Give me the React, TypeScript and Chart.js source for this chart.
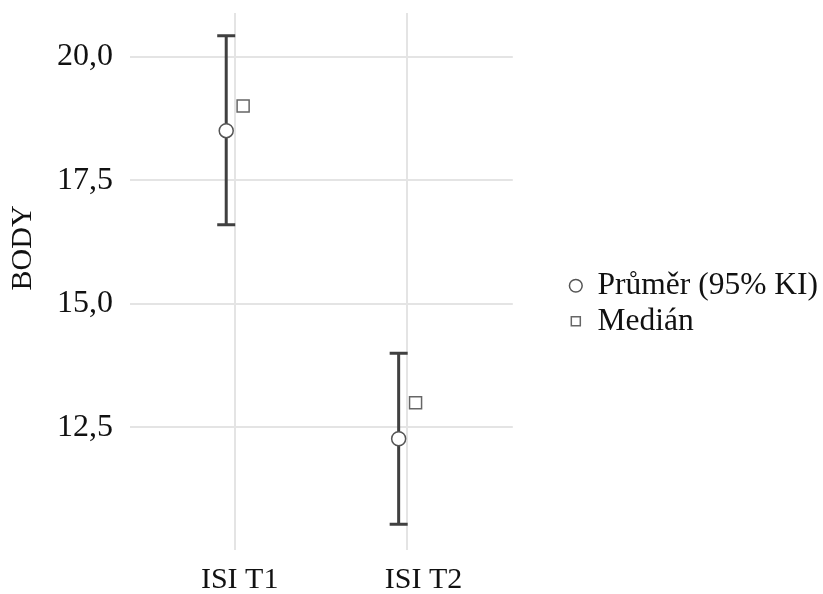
import React, { useEffect, useRef } from 'react';
import { Chart, registerables } from 'chart.js';

Chart.register(...registerables);

// ---- data ----
const categories = ['ISI T1', 'ISI T2'];
const categoryPositions = [0, 1];
const meanValues = [18.5, 12.27];
const ciLower = [16.6, 10.54];
const ciUpper = [20.42, 14.0];
const medianValues = [19.0, 13.0];
const yTickValues = [12.5, 15, 17.5, 20];
const yTickLabels = ['12,5', '15,0', '17,5', '20,0'];
const seriesNames = ['Průměr (95% KI)', 'Medián'];
const yAxisTitle = 'BODY';

// ---- styling / layout ----
const FONT = "'Liberation Serif', 'Times New Roman', serif";
const TEXT_COLOR = '#111111';
const GRID_COLOR = '#e4e4e4';
const BAR_COLOR = '#404040';
const MEAN_SHIFT = -0.049;
const MEDIAN_SHIFT = 0.049;
const LABEL_SHIFTS = [0.029, 0.095];
const X_MIN = -0.607;
const X_MAX = 1.613;
const Y_MIN = 10.02;
const Y_MAX = 20.88;

const errorBarPlugin = {
  id: 'errorBars',
  beforeDatasetsDraw(chart: any) {
    const { ctx } = chart;
    const xs = chart.scales.x;
    const ys = chart.scales.y;
    ctx.save();
    ctx.strokeStyle = BAR_COLOR;
    ctx.lineWidth = 3;
    ctx.lineCap = 'butt';
    categoryPositions.forEach((p, i) => {
      const x = xs.getPixelForValue(p + MEAN_SHIFT);
      const yl = ys.getPixelForValue(ciLower[i]);
      const yh = ys.getPixelForValue(ciUpper[i]);
      ctx.beginPath();
      ctx.moveTo(x, yl);
      ctx.lineTo(x, yh);
      ctx.moveTo(x - 9, yl);
      ctx.lineTo(x + 9, yl);
      ctx.moveTo(x - 9, yh);
      ctx.lineTo(x + 9, yh);
      ctx.stroke();
    });
    ctx.restore();
  },
};

const yTitlePlugin = {
  id: 'yTitle',
  afterDraw(chart: any) {
    const { ctx, chartArea } = chart;
    ctx.save();
    ctx.translate(23, chartArea.top + (chartArea.bottom - chartArea.top) * 0.4375);
    ctx.rotate(-Math.PI / 2);
    ctx.font = `30px ${FONT}`;
    ctx.fillStyle = TEXT_COLOR;
    ctx.textAlign = 'center';
    ctx.textBaseline = 'middle';
    ctx.fillText(yAxisTitle, 0, 0);
    ctx.restore();
  },
};

const noPad = (s: any) => {
  s.paddingTop = 0;
  s.paddingBottom = 0;
  s.paddingLeft = 0;
  s.paddingRight = 0;
};

export default function App() {
  const canvasRef = useRef<HTMLCanvasElement | null>(null);

  useEffect(() => {
    document.body.style.margin = '0';
    const canvas = canvasRef.current;
    if (!canvas) return;
    const chart = new Chart(canvas, {
      type: 'scatter',
      data: {
        datasets: [
          {
            label: seriesNames[0],
            data: meanValues.map((v, i) => ({ x: categoryPositions[i] + MEAN_SHIFT, y: v })),
            pointStyle: 'circle',
            pointRadius: 7,
            pointBackgroundColor: '#ffffff',
            pointBorderColor: '#555555',
            pointBorderWidth: 1.5,
            backgroundColor: '#ffffff',
            borderColor: '#555555',
            borderWidth: 1.5,
            xAxisID: 'x',
            yAxisID: 'y',
          },
          {
            label: seriesNames[1],
            data: medianValues.map((v, i) => ({ x: categoryPositions[i] + MEDIAN_SHIFT, y: v })),
            pointStyle: 'rect',
            pointRadius: 8.5,
            pointBackgroundColor: '#ffffff',
            pointBorderColor: '#666666',
            pointBorderWidth: 1.5,
            backgroundColor: '#ffffff',
            borderColor: '#666666',
            borderWidth: 1.5,
            xAxisID: 'x',
            yAxisID: 'y',
          },
        ],
      },
      options: {
        responsive: false,
        animation: false,
        events: [],
        layout: { padding: { top: 13, left: 0, right: -5, bottom: 0 } },
        plugins: {
          tooltip: { enabled: false },
          legend: {
            position: 'right',
            align: 'center',
            maxWidth: 400,
            labels: {
              usePointStyle: true,
              boxWidth: 12,
              boxHeight: 9,
              padding: 4,
              color: TEXT_COLOR,
              font: { family: FONT, size: 31.5 },
            },
          },
        },
        scales: {
          x: {
            type: 'linear',
            position: 'bottom',
            min: X_MIN,
            max: X_MAX,
            grid: { color: GRID_COLOR, lineWidth: 2, drawTicks: false },
            border: { display: false },
            ticks: { display: false },
            afterBuildTicks: (s: any) => {
              s.ticks = categoryPositions.map((v) => ({ value: v }));
            },
            afterFit: (s: any) => {
              s.height = 0;
              noPad(s);
            },
          },
          xl: {
            type: 'linear',
            position: 'bottom',
            min: X_MIN,
            max: X_MAX,
            grid: { display: false, drawTicks: false },
            border: { display: false },
            ticks: {
              padding: 12,
              color: TEXT_COLOR,
              font: { family: FONT, size: 30 },
              maxRotation: 0,
              autoSkip: false,
              callback: (_v: any, i: number) => categories[i],
            },
            afterBuildTicks: (s: any) => {
              s.ticks = categoryPositions.map((v, i) => ({ value: v + LABEL_SHIFTS[i] }));
            },
            afterFit: (s: any) => {
              s.height = 44;
              noPad(s);
            },
          },
          y: {
            type: 'linear',
            position: 'left',
            min: Y_MIN,
            max: Y_MAX,
            grid: { color: GRID_COLOR, lineWidth: 2, drawTicks: false },
            border: { display: false },
            ticks: {
              padding: 17,
              color: TEXT_COLOR,
              font: { family: FONT, size: 32 },
              callback: (_v: any, i: number) => yTickLabels[i],
            },
            afterBuildTicks: (s: any) => {
              s.ticks = yTickValues.map((v) => ({ value: v }));
            },
            afterFit: (s: any) => {
              s.width = 130;
              noPad(s);
            },
          },
          yr: {
            type: 'linear',
            position: 'right',
            grid: { display: false, drawTicks: false },
            border: { display: false },
            ticks: { display: false },
            afterFit: (s: any) => {
              s.width = 53;
              noPad(s);
            },
          },
        },
      } as any,
      plugins: [errorBarPlugin, yTitlePlugin],
    });
    return () => chart.destroy();
  }, []);

  return (
    <div style={{ width: 823, height: 594, position: 'relative', background: '#ffffff' }}>
      <canvas ref={canvasRef} width={823} height={594} style={{ display: 'block' }} />
    </div>
  );
}
